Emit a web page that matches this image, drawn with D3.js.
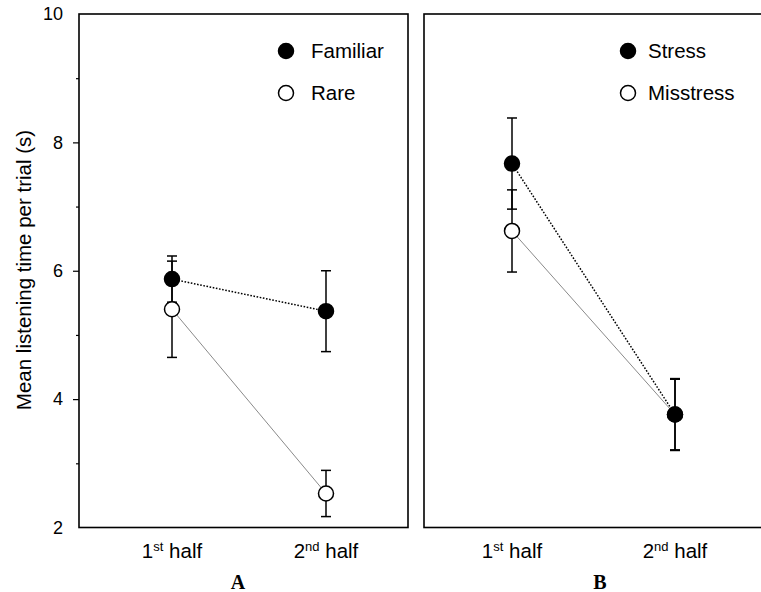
<!DOCTYPE html>
<html>
<head>
<meta charset="utf-8">
<script src="https://cdn.jsdelivr.net/npm/d3@7"></script>
<style>
  html, body { margin: 0; padding: 0; background: #fff; }
  svg { display: block; }
  text { font-family: Arial, "Liberation Sans", sans-serif; fill: #000; }
</style>
</head>
<body>
<svg id="chart" width="761" height="592"></svg>
<script>
// Listening-time data: two phases, two conditions per panel (mean ± SE)
const phases = ["1st half", "2nd half"];
const phaseOrdinal = ["st", "nd"];
const phaseNumber = ["1", "2"];

const familiar = [5.87, 5.37];
const familiarSE = [0.36, 0.63];
const rare = [5.40, 2.53];
const rareSE = [0.75, 0.36];

const stress = [7.67, 3.76];
const stressSE = [0.71, 0.56];
const misstress = [6.62, 3.76];
const misstressSE = [0.64, 0.55];

const yMajorTicks = [2, 4, 6, 8, 10];
const yMinorTicks = [3, 5, 7, 9];

const svg = d3.select("#chart");

const y = d3.scaleLinear().domain([2, 10]).range([527.5, 14]);

const panels = [
  {
    letter: "A", x0: 79, x1: 408, points: [172, 326], letterX: 238, legendX: 286, textGap: 25,
    series: [
      { name: "Familiar", values: familiar, se: familiarSE, filled: true },
      { name: "Rare", values: rare, se: rareSE, filled: false }
    ]
  },
  {
    letter: "B", x0: 424, x1: 764, points: [512, 675], letterX: 600, legendX: 628, textGap: 20,
    series: [
      { name: "Stress", values: stress, se: stressSE, filled: true },
      { name: "Misstress", values: misstress, se: misstressSE, filled: false }
    ]
  }
];

const R = 7.5;

panels.forEach(p => {
  const x = d3.scalePoint().domain(phases).range(p.points);
  const g = svg.append("g");

  // Frame (panel B runs past the right edge of the canvas)
  g.append("rect")
    .attr("x", p.x0).attr("y", y(10))
    .attr("width", p.x1 - p.x0).attr("height", y(2) - y(10))
    .attr("fill", "none").attr("stroke", "#000").attr("stroke-width", 1.6);

  // Connecting lines: filled series dotted, open series thin grey
  const line = d3.line().x((d, i) => x(phases[i])).y(d => y(d));
  [p.series[1], p.series[0]].forEach(s => {
    g.append("path")
      .datum(s.values)
      .attr("d", line)
      .attr("fill", "none")
      .attr("stroke", s.filled ? "#000" : "#8a8a8a")
      .attr("stroke-width", s.filled ? 1.5 : 1)
      .attr("stroke-dasharray", s.filled ? "1.6,1.6" : null);
  });

  // Error bars
  p.series.forEach(s => {
    s.values.forEach((v, i) => {
      const cx = x(phases[i]);
      const lo = y(v - s.se[i]), hi = y(v + s.se[i]);
      g.append("line").attr("x1", cx).attr("x2", cx).attr("y1", lo).attr("y2", hi)
        .attr("stroke", "#000").attr("stroke-width", 1.5);
      [lo, hi].forEach(yy => {
        g.append("line").attr("x1", cx - 5).attr("x2", cx + 5).attr("y1", yy).attr("y2", yy)
          .attr("stroke", "#000").attr("stroke-width", 1.5);
      });
    });
  });

  // Markers: open series drawn first so filled circles sit on top where they coincide
  [p.series[1], p.series[0]].forEach(s => {
    g.selectAll(null).data(s.values).enter().append("circle")
      .attr("cx", (d, i) => x(phases[i]))
      .attr("cy", d => y(d))
      .attr("r", R)
      .attr("fill", s.filled ? "#000" : "#fff")
      .attr("stroke", "#000").attr("stroke-width", 1.5);
  });

  // Legend
  p.series.forEach((s, k) => {
    const ly = 51 + k * 42;
    g.append("circle").attr("cx", p.legendX).attr("cy", ly).attr("r", R)
      .attr("fill", s.filled ? "#000" : "#fff").attr("stroke", "#000").attr("stroke-width", 1.5);
    g.append("text").attr("x", p.legendX + p.textGap).attr("y", ly).attr("dy", "0.36em")
      .attr("font-size", 20.5).text(s.name);
  });

  // Category labels with ordinal superscripts
  phases.forEach((ph, i) => {
    const t = g.append("text").attr("x", x(ph)).attr("y", 558)
      .attr("text-anchor", "middle").attr("font-size", 20.5);
    t.append("tspan").text(phaseNumber[i]);
    t.append("tspan").attr("font-size", 13).attr("dy", -7).text(phaseOrdinal[i]);
    t.append("tspan").attr("dy", 7).text(" " + ph.split(" ")[1]);
  });

  // Panel letter
  g.append("text").attr("x", p.letterX).attr("y", 589)
    .attr("text-anchor", "middle")
    .style("font-family", "'Times New Roman', 'Liberation Serif', serif")
    .attr("font-weight", "bold").attr("font-size", 20).text(p.letter);
});

// Y axis on panel A
const axis = d3.axisLeft(y).tickValues(yMajorTicks).tickSize(6).tickPadding(10);
const ag = svg.append("g").attr("transform", "translate(79,0)").call(axis);
ag.select(".domain").remove();
ag.selectAll(".tick text").attr("font-size", 18).style("font-family", "Arial, 'Liberation Sans', sans-serif");
ag.selectAll(".tick line").attr("stroke-width", 1.2)
  .filter(d => d === 2 || d === 10).remove();

const minor = d3.axisLeft(y).tickValues(yMinorTicks).tickSize(3).tickFormat("");
const mg = svg.append("g").attr("transform", "translate(79,0)").call(minor);
mg.select(".domain").remove();
mg.selectAll(".tick line").attr("stroke-width", 1.2);

// Y axis title
svg.append("text")
  .attr("transform", "translate(31,270) rotate(-90)")
  .attr("text-anchor", "middle")
  .attr("font-size", 20.5)
  .text("Mean listening time per trial (s)");
</script>
</body>
</html>
